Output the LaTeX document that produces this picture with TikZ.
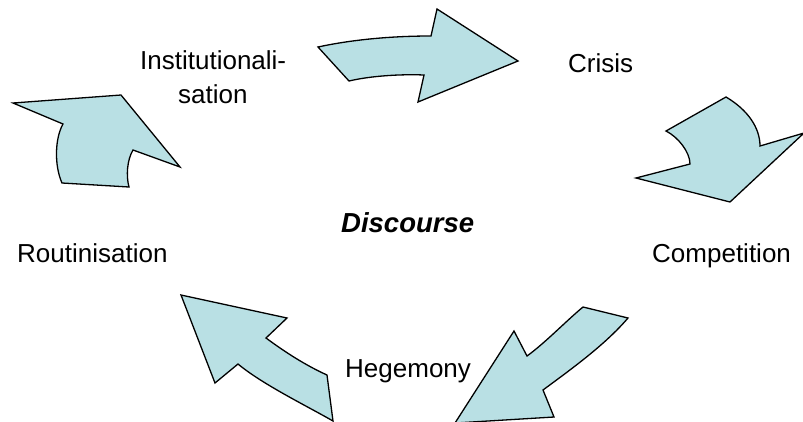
\documentclass[tikz,border=0pt]{standalone}
\usepackage{fontspec}
\setmainfont{Liberation Sans}
\definecolor{arrowfill}{RGB}{185,224,228}
\begin{document}
\begin{tikzpicture}[x=1pt,y=-1pt,
  cyc/.style={fill=arrowfill,draw=black,line width=1.3pt,line join=miter},
  lbl/.style={inner sep=0pt,anchor=base west,font=\fontsize{26}{34}\selectfont}]
\useasboundingbox (0,0) rectangle (803,421);
% top arrow
\draw[cyc] (318,47) .. controls (355,39) and (395,36) .. (431,36) -- (437,9) -- (518,61) -- (418,102) -- (424,75)
  .. controls (400,74) and (370,76) .. (349,81) -- cycle;
% right arrow
\draw[cyc] (726,97) .. controls (748,110) and (760,128) .. (760,146) -- (804,133) -- (730,202) -- (636,178) -- (690,164)
  .. controls (690,152) and (678,137) .. (666,131) -- cycle;
% lower right arrow
\draw[cyc] (583,307) -- (628,318) .. controls (605,345) and (570,370) .. (543,390) -- (554,417) -- (455,423)
  -- (514,331) -- (527,356) .. controls (545,343) and (565,322) .. cycle;
% lower left arrow
\draw[cyc] (181,295) -- (287,318) -- (266,338) .. controls (285,352) and (305,365) .. (327,375) -- (333,421)
  .. controls (305,405) and (262,384) .. (238,364) -- (215,383) -- cycle;
% left arrow
\draw[cyc] (13,103) -- (121,95) -- (180,167) -- (133,150) .. controls (127,160) and (126,176) .. (129,187)
  -- (62,183) .. controls (54,165) and (55,138) .. (63,124) -- cycle;
% labels
\node[lbl] (inst) at (140,69) {Institutionali-};
\node[lbl] (sat) at (178,103) {sation};
\node[lbl] (cri) at (568,72) {Crisis};
\node[lbl] (comp) at (652,262) {Competition};
\node[lbl] (rout) at (17,262) {Routinisation};
\node[lbl] (heg) at (345,377) {Hegemony};
\node[lbl,font=\fontsize{27.5}{34}\selectfont\bfseries\itshape] (disc) at (341,232) {Discourse};
\end{tikzpicture}
\end{document}
